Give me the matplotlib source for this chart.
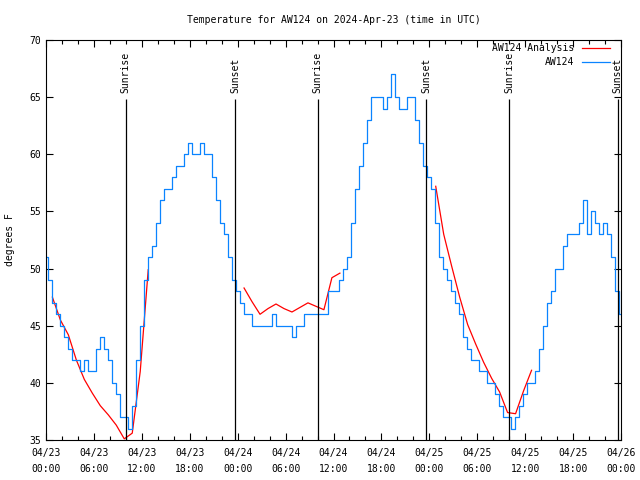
import numpy as np
import matplotlib
matplotlib.use("Agg")
import matplotlib.pyplot as plt

plt.rcParams['font.family'] = 'DejaVu Sans Mono'
plt.rcParams['font.size'] = 7

# observed temperature (deg F), every 30 min from 2024-04-23 00:00 UTC
obs_hours = np.arange(0, 72.5, 0.5)
obs_temp = [51, 49, 47, 46, 45, 44, 43, 42, 42, 41, 42, 41, 41, 43, 44, 43,
            42, 40, 39, 37, 37, 36, 38, 42, 45, 49, 51, 52, 54, 56, 57, 57,
            58, 59, 59, 60, 61, 60, 60, 61, 60, 60, 58, 56, 54, 53, 51, 49,
            48, 47, 46, 46, 45, 45, 45, 45, 45, 46, 45, 45, 45, 45, 44, 45,
            45, 46, 46, 46, 46, 46, 46, 48, 48, 48, 49, 50, 51, 54, 57, 59,
            61, 63, 65, 65, 65, 64, 65, 67, 65, 64, 64, 65, 65, 63, 61, 59,
            58, 57, 54, 51, 50, 49, 48, 47, 46, 44, 43, 42, 42, 41, 41, 40,
            40, 39, 38, 37, 37, 36, 37, 38, 39, 40, 40, 41, 43, 45, 47, 48,
            50, 50, 52, 53, 53, 53, 54, 56, 53, 55, 54, 53, 54, 53, 51, 48,
            46]

# analysis, three separate runs (hours, deg F)
ana1_hours = [0.8, 1.8, 2.8, 3.8, 4.8, 5.8, 6.8, 7.8, 8.8, 9.8, 10.8, 11.8, 12.8]
ana1_temp = [47.5, 45.5, 44.2, 42.0, 40.3, 39.1, 38.0, 37.2, 36.3, 35.1, 35.6, 41.0, 49.9]
ana2_hours = [24.8, 25.8, 26.8, 27.8, 28.8, 29.8, 30.8, 31.8, 32.8, 33.8, 34.8, 35.8, 36.8]
ana2_temp = [48.3, 47.1, 46.0, 46.5, 46.9, 46.5, 46.2, 46.6, 47.0, 46.7, 46.4, 49.2, 49.6]
ana3_hours = [48.8, 49.8, 50.8, 51.8, 52.8, 53.8, 54.8, 55.8, 56.8, 57.8, 58.8, 59.8, 60.8]
ana3_temp = [57.2, 53.0, 50.2, 47.5, 45.1, 43.4, 41.8, 40.4, 39.2, 37.4, 37.3, 39.3, 41.1]

sunrise = [10.0, 34.0, 57.98]
sunset = [23.67, 47.6, 71.6]

xticks = np.arange(0, 73, 6)
xlabels = ['04/23\n00:00', '04/23\n06:00', '04/23\n12:00', '04/23\n18:00',
           '04/24\n00:00', '04/24\n06:00', '04/24\n12:00', '04/24\n18:00',
           '04/25\n00:00', '04/25\n06:00', '04/25\n12:00', '04/25\n18:00',
           '04/26\n00:00']

fig = plt.figure(figsize=(6.4, 4.8), dpi=100)
ax = fig.add_axes([46/640, 40/480, 575/640, 400/480])

ax.plot(ana1_hours, ana1_temp, color='#ff0000', lw=0.9, label='AW124 Analysis')
ax.plot(ana2_hours, ana2_temp, color='#ff0000', lw=0.9)
ax.plot(ana3_hours, ana3_temp, color='#ff0000', lw=0.9)
ax.plot(obs_hours, obs_temp, color='#0a84ff', lw=0.9, drawstyle='steps-mid', label='AW124')

for h in sunrise:
    ax.vlines(h, 35, 64.8, color='black', lw=0.9)
    ax.text(h, 65.4, 'Sunrise', rotation=90, ha='center', va='bottom')
for h in sunset:
    ax.vlines(h, 35, 64.8, color='black', lw=0.9)
    ax.text(h, 65.4, 'Sunset', rotation=90, ha='center', va='bottom')

ax.set_xlim(0, 72)
ax.set_ylim(35, 70)
ax.set_xticks(xticks)
ax.set_xticklabels(xlabels, linespacing=1.65)
ax.set_xticks(np.arange(0, 73, 2), minor=True)
ax.set_yticks(np.arange(35, 71, 5))
ax.tick_params(direction='in', top=True, right=True, length=5, width=0.8)
ax.tick_params(axis='x', pad=6)
ax.tick_params(which='minor', direction='in', top=True, length=3, width=0.8)
ax.set_title('Temperature for AW124 on 2024-Apr-23 (time in UTC)', fontsize=7, pad=12)
fig.text(10/640, 0.5, 'degrees F', rotation=90, ha='center', va='center')
ax.legend(loc='upper right', bbox_to_anchor=(0.984, 0.9975), frameon=False,
          markerfirst=False, handlelength=2.9, borderaxespad=0, borderpad=0.2,
          labelspacing=0.45, handletextpad=0.8)

fig.savefig('out.png', dpi=100)
